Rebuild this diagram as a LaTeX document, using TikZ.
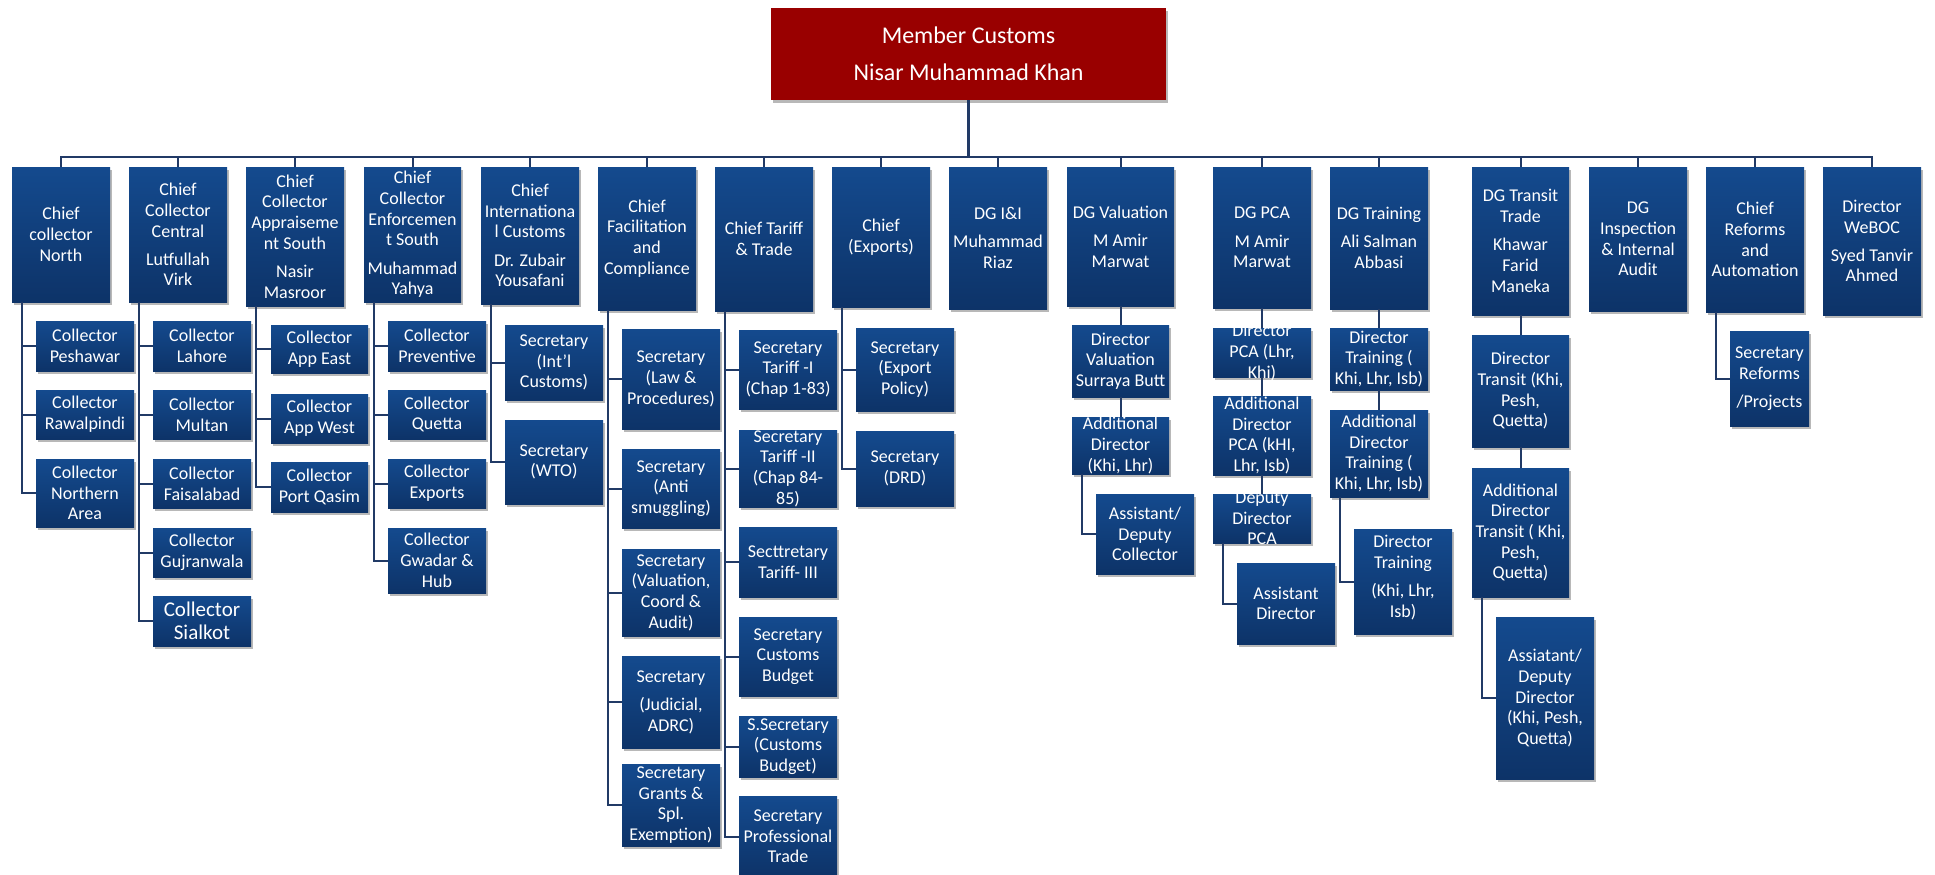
\documentclass[tikz,border=0pt]{standalone}
\usepackage{fontspec}
\setmainfont{Carlito}
\usetikzlibrary{shadows}
\definecolor{boxtop}{RGB}{20,74,142}
\definecolor{boxbot}{RGB}{13,51,104}
\definecolor{topred}{RGB}{153,0,0}
\definecolor{lineblue}{RGB}{33,58,102}
\newcommand\orgbox[7][]{%
  \pgfmathsetmacro\obw{#5-#3}%
  \pgfmathsetmacro\obh{#6-#4}%
  \pgfmathsetmacro\obx{(#3+#5)/2}%
  \pgfmathsetmacro\oby{(#4+#6)/2}%
  \node[bluebox,minimum width=\obw pt,minimum height=\obh pt] (#2) at (\obx,\oby) {};%
  \node[boxtext,#1] (#2-t) at (#2.center) {#7};%
}
\begin{document}
\begin{tikzpicture}[x=1pt,y=-1pt,
  bluebox/.style={rectangle, inner sep=0pt, outer sep=0pt, draw=none,
    top color=boxtop, bottom color=boxbot,
    drop shadow={shadow xshift=1.5pt, shadow yshift=-3pt, opacity=0.28, fill=black}},
  boxtext/.style={text=white, align=center, inner sep=0pt, font=\fontsize{18}{20.7}\selectfont},
  conn/.style={draw=lineblue, line width=2pt}]
\useasboundingbox[fill=white] (0,0) rectangle (1935,875);

% top
\node[rectangle, inner sep=0pt, outer sep=0pt, fill=topred, minimum width=395pt, minimum height=92pt,
  drop shadow={shadow xshift=1.5pt, shadow yshift=-3pt, opacity=0.28, fill=black}] (top) at (968.5,54) {};
\node[boxtext, font=\fontsize{24}{29}\selectfont] (top-t) at (top.center) {Member Customs\\[8pt]Nisar Muhammad Khan};

% level 1
\orgbox{L1}{12}{167}{110}{302}{Chief\\collector\\North}
\orgbox{L2}{129}{167}{227}{302}{Chief\\Collector\\Central\\[7.5pt]Lutfullah\\Virk}
\orgbox{L3}{246}{167}{344}{306}{Chief\\Collector\\Appraiseme\\nt South\\[7.5pt]Nasir\\Masroor}
\orgbox{L4}{364}{167}{461}{302}{Chief\\Collector\\Enforcemen\\t South\\[7.5pt]Muhammad\\Yahya}
\orgbox{L5}{481}{167}{579}{304}{Chief\\Internationa\\l Customs\\[7.5pt]Dr. Zubair\\Yousafani}
\orgbox{L6}{598}{167}{696}{310}{Chief\\Facilitation\\and\\Compliance}
\orgbox{L7}{715}{167}{813}{311}{Chief Tariff\\\& Trade}
\orgbox{L8}{832}{167}{930}{307}{Chief\\(Exports)}
\orgbox{L9}{949}{167}{1047}{309}{DG I\&I\\[7.5pt]Muhammad\\Riaz}
\orgbox{L10}{1067}{167}{1174}{306}{DG Valuation\\[7.5pt]M Amir\\Marwat}
\orgbox{L11}{1213}{167}{1311}{308}{DG PCA\\[7.5pt]M Amir\\Marwat}
\orgbox{L12}{1330}{167}{1428}{309}{DG Training\\[7.5pt]Ali Salman\\Abbasi}
\orgbox{L13}{1472}{167}{1569}{315}{DG Transit\\Trade\\[7.5pt]Khawar\\Farid\\Maneka}
\orgbox{L14}{1589}{167}{1687}{311}{DG\\Inspection\\\& Internal\\Audit}
\orgbox{L15}{1706}{167}{1804}{312}{Chief\\Reforms\\and\\Automation}
\orgbox{L16}{1823}{167}{1921}{315}{Director\\WeBOC\\[7.5pt]Syed Tanvir\\Ahmed}

% children
\orgbox{c1a}{36}{321}{134}{371}{Collector\\Peshawar}
\orgbox{c1b}{36}{390}{134}{439}{Collector\\Rawalpindi}
\orgbox{c1c}{36}{459}{134}{527}{Collector\\Northern\\Area}
\orgbox{c2a}{153}{321}{251}{371}{Collector\\Lahore}
\orgbox{c2b}{153}{390}{251}{439}{Collector\\Multan}
\orgbox{c2c}{153}{459}{251}{508}{Collector\\Faisalabad}
\orgbox{c2d}{153}{528}{251}{577}{Collector\\Gujranwala}
\orgbox[font=\fontsize{21}{23.5}\selectfont]{c2e}{153}{596}{251}{646}{Collector\\Sialkot}
\orgbox{c3a}{271}{325}{368}{373}{Collector\\App East}
\orgbox{c3b}{271}{394}{368}{443}{Collector\\App West}
\orgbox{c3c}{271}{462}{368}{512}{Collector\\Port Qasim}
\orgbox{c4a}{388}{321}{486}{371}{Collector\\Preventive}
\orgbox{c4b}{388}{390}{486}{439}{Collector\\Quetta}
\orgbox{c4c}{388}{459}{486}{508}{Collector\\Exports}
\orgbox{c4d}{388}{528}{486}{593}{Collector\\Gwadar \&\\Hub}
\orgbox{c5a}{505}{325}{603}{400}{Secretary\\(Int'l\\Customs)}
\orgbox{c5b}{505}{420}{603}{504}{Secretary\\(WTO)}
\orgbox{c6a}{622}{329}{720}{429}{Secretary\\(Law \&\\Procedures)}
\orgbox{c6b}{622}{449}{720}{528}{Secretary\\(Anti\\smuggling)}
\orgbox{c6c}{622}{549}{720}{636}{Secretary\\(Valuation,\\Coord \&\\Audit)}
\orgbox{c6d}{622}{656}{720}{748}{Secretary\\[7.5pt](Judicial,\\ADRC)}
\orgbox{c6e}{622}{764}{720}{846}{Secretary\\Grants \&\\Spl.\\Exemption)}
\orgbox{c7a}{739}{330}{837}{409}{Secretary\\Tariff -I\\(Chap 1-83)}
\orgbox{c7b}{739}{430}{837}{507}{Secretary\\Tariff -II\\(Chap 84-\\85)}
\orgbox{c7c}{739}{527}{837}{597}{Secttretary\\Tariff- III}
\orgbox{c7d}{739}{617}{837}{696}{Secretary\\Customs\\Budget}
\orgbox{c7e}{739}{716}{837}{777}{S.Secretary\\(Customs\\Budget)}
\orgbox{c7f}{739}{796}{837}{877}{Secretary\\Professional\\Trade}
\orgbox{c8a}{856}{328}{954}{411}{Secretary\\(Export\\Policy)}
\orgbox{c8b}{856}{431}{954}{506}{Secretary\\(DRD)}
\orgbox{dv1}{1072}{325}{1169}{397}{Director\\Valuation\\Surraya Butt}
\orgbox{dv2}{1072}{417}{1169}{474}{Additional\\Director\\(Khi, Lhr)}
\orgbox{dv3}{1096}{494}{1194}{574}{Assistant/\\Deputy\\Collector}
\orgbox{dp1}{1213}{328}{1311}{377}{Director\\PCA (Lhr,\\Khi)}
\orgbox{dp2}{1213}{396}{1311}{475}{Additional\\Director\\PCA (kHI,\\Lhr, Isb)}
\orgbox{dp3}{1213}{494}{1311}{543}{Deputy\\Director\\PCA}
\orgbox{dp4}{1237}{563}{1335}{644}{Assistant\\Director}
\orgbox{dt1}{1330}{328}{1428}{390}{Director\\Training (\\Khi, Lhr, Isb)}
\orgbox{dt2}{1330}{410}{1428}{497}{Additional\\Director\\Training (\\Khi, Lhr, Isb)}
\orgbox[yshift=14pt]{dt3}{1354}{529}{1452}{634}{Deputy\\Director\\Training\\[7.5pt](Khi, Lhr,\\Isb)}
\orgbox{tr1}{1472}{335}{1569}{447}{Director\\Transit (Khi,\\Pesh,\\Quetta)}
\orgbox{tr2}{1472}{468}{1569}{597}{Additional\\Director\\Transit ( Khi,\\Pesh,\\Quetta)}
\orgbox{tr3}{1496}{617}{1594}{779}{Assiatant/\\Deputy\\Director\\(Khi, Pesh,\\Quetta)}
\orgbox{rf1}{1730}{331}{1809}{426}{Secretary\\Reforms\\[7.5pt]/Projects}

% connectors
\coordinate (bar) at (968.5,157);
\draw[conn, line width=2.6pt] (top.south) -- (top.south |- bar);
\draw[conn] (L1.north) -- (L1.north |- bar) -- (L16.north |- bar) -- (L16.north);
\foreach \i in {2,...,15} \draw[conn] (L\i.north) -- (L\i.north |- bar);

\foreach \p/\c in {L1/c1a,L1/c1b,L1/c1c,
  L2/c2a,L2/c2b,L2/c2c,L2/c2d,L2/c2e,
  L3/c3a,L3/c3b,L3/c3c,
  L4/c4a,L4/c4b,L4/c4c,L4/c4d,
  L5/c5a,L5/c5b,
  L6/c6a,L6/c6b,L6/c6c,L6/c6d,L6/c6e,
  L7/c7a,L7/c7b,L7/c7c,L7/c7d,L7/c7e,L7/c7f,
  L8/c8a,L8/c8b,
  dv2/dv3,dp3/dp4,dt2/dt3,tr2/tr3,L15/rf1}
  \draw[conn] ([xshift=10pt]\p.south west) |- (\c.west);

\foreach \a/\b in {L10/dv1,dv1/dv2,L11/dp1,dp1/dp2,dp2/dp3,L12/dt1,dt1/dt2,L13/tr1,tr1/tr2}
  \draw[conn] (\a.south) -- (\a.south |- \b.north);
\end{tikzpicture}
\end{document}
